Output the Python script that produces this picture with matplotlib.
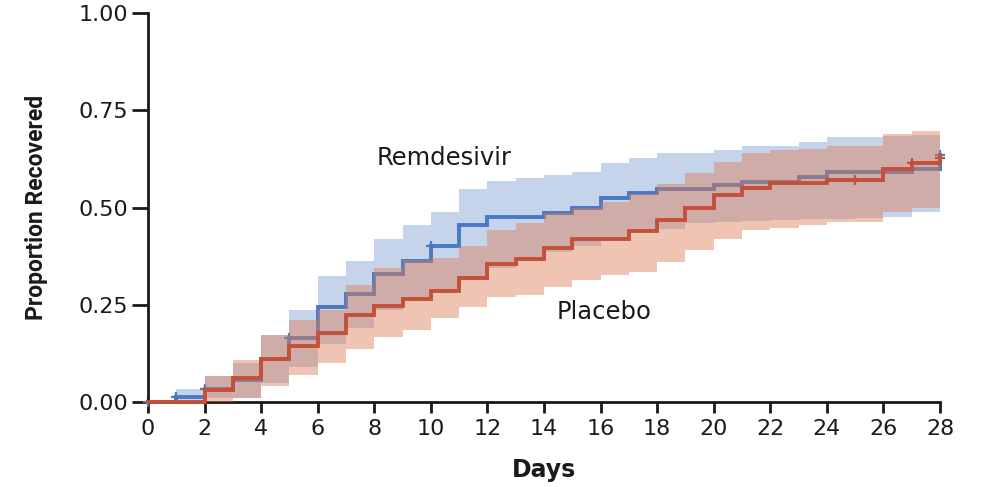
import matplotlib
matplotlib.use("Agg")
import matplotlib.pyplot as plt

# ---- data (step values holding from day d to day d+1) ----
days = list(range(29))
remdesivir = [0, 0.012, 0.033, 0.056, 0.11, 0.164, 0.245, 0.277, 0.33, 0.363, 0.40, 0.455,
              0.476, 0.476, 0.487, 0.50, 0.524, 0.537, 0.547, 0.547, 0.557, 0.566, 0.566,
              0.579, 0.59, 0.59, 0.592, 0.60, 0.635]
rem_upper = [0, 0.033, 0.067, 0.10, 0.172, 0.237, 0.325, 0.362, 0.418, 0.455, 0.489, 0.547,
             0.569, 0.575, 0.583, 0.592, 0.614, 0.626, 0.639, 0.639, 0.648, 0.658, 0.658,
             0.669, 0.68, 0.68, 0.683, 0.686, 0.686]
rem_lower = [0, 0.0, 0.01, 0.01, 0.05, 0.09, 0.15, 0.19, 0.237, 0.266, 0.29, 0.318, 0.344,
             0.362, 0.386, 0.40, 0.42, 0.434, 0.445, 0.459, 0.462, 0.465, 0.468, 0.47, 0.47,
             0.472, 0.476, 0.489, 0.489]
placebo = [0, 0, 0.032, 0.062, 0.11, 0.144, 0.178, 0.224, 0.247, 0.266, 0.286, 0.318, 0.356,
           0.367, 0.397, 0.418, 0.418, 0.44, 0.469, 0.499, 0.531, 0.549, 0.562, 0.562, 0.571,
           0.571, 0.60, 0.614, 0.626]
pla_upper = [0, 0, 0.067, 0.108, 0.172, 0.21, 0.237, 0.30, 0.344, 0.365, 0.37, 0.40, 0.442,
             0.46, 0.485, 0.50, 0.515, 0.535, 0.56, 0.588, 0.618, 0.639, 0.648, 0.65, 0.658,
             0.658, 0.689, 0.697, 0.697]
pla_lower = [0, 0, 0.0, 0.01, 0.04, 0.07, 0.10, 0.137, 0.168, 0.185, 0.215, 0.245, 0.27,
             0.275, 0.296, 0.314, 0.326, 0.335, 0.36, 0.39, 0.42, 0.442, 0.448, 0.455, 0.463,
             0.463, 0.489, 0.50, 0.50]

# censoring marks
rem_censor_days = [0, 1, 2, 5, 10, 28]
rem_censor_vals = [0, 0.012, 0.033, 0.164, 0.40, 0.635]
pla_censor_days = [25, 27, 28]
pla_censor_vals = [0.571, 0.614, 0.626]

x_ticks = list(range(0, 29, 2))
y_ticks = [0.0, 0.25, 0.50, 0.75, 1.00]
y_tick_labels = ["0.00", "0.25", "0.50", "0.75", "1.00"]

# ---- figure ----
fig = plt.figure(figsize=(9.81, 4.87), dpi=100)
ax = fig.add_axes([148 / 981, 85 / 487, 792 / 981, 389 / 487])

blue_line = "#4a78c2"
blue_fill = "#8eaad8"
red_line = "#c4503a"
red_fill = "#dc7d55"

ax.fill_between(days, rem_lower, rem_upper, step="post", color=blue_fill, alpha=0.5,
                linewidth=0, zorder=1)
ax.step(days, remdesivir, where="post", color=blue_line, linewidth=2.8, zorder=2,
        clip_on=False, solid_joinstyle="miter")
ax.fill_between(days, pla_lower, pla_upper, step="post", color=red_fill, alpha=0.45,
                linewidth=0, zorder=3)
ax.step(days, placebo, where="post", color=red_line, linewidth=2.8, zorder=4,
        clip_on=False, solid_joinstyle="miter")
ax.plot(rem_censor_days, rem_censor_vals, linestyle="none", marker="+", markersize=7,
        markeredgewidth=1.6, color=blue_line, zorder=2.5, clip_on=False)
ax.plot(pla_censor_days, pla_censor_vals, linestyle="none", marker="+", markersize=7,
        markeredgewidth=1.6, color=red_line, zorder=4.5, clip_on=False)

ax.set_xlim(0, 28)
ax.set_ylim(0, 1)
ax.set_xticks(x_ticks)
ax.set_xticklabels([str(t) for t in x_ticks])
ax.set_yticks(y_ticks)
ax.set_yticklabels(y_tick_labels)

for side in ("top", "right"):
    ax.spines[side].set_visible(False)
for side in ("left", "bottom"):
    ax.spines[side].set_linewidth(2.0)
    ax.spines[side].set_color("#1a1a1a")

ax.tick_params(axis="y", direction="out", length=11.5, width=2, colors="#1a1a1a",
               labelsize=16, pad=2.5)
ax.tick_params(axis="x", direction="out", length=8, width=2, colors="#1a1a1a",
               labelsize=16, pad=4)

ax.set_ylabel("Proportion Recovered", fontsize=16.5, fontweight="bold",
              family=["Roboto", "DejaVu Sans"], color="#1a1a1a", labelpad=22)
ax.set_xlabel("Days", fontsize=17, fontweight="bold", family="DejaVu Sans",
              color="#1a1a1a", labelpad=14)

ax.text(8.1, 0.627, "Remdesivir", fontsize=17.5, color="#1a1a1a", va="center", ha="left")
ax.text(14.45, 0.231, "Placebo", fontsize=17.5, color="#1a1a1a", va="center", ha="left")

fig.savefig("out.png", dpi=100)
